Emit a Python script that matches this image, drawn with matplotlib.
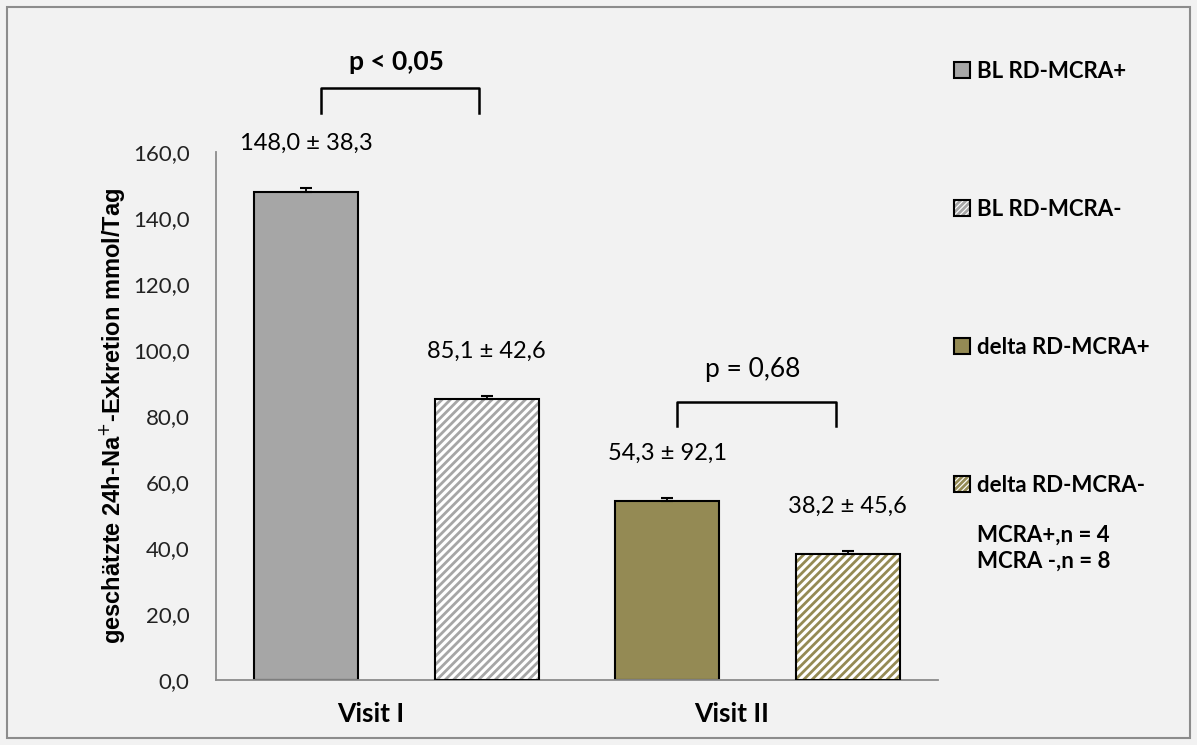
import numpy as np
import matplotlib
matplotlib.use("Agg")
import matplotlib.pyplot as plt
from matplotlib.patches import Patch, Rectangle
from matplotlib.ticker import FuncFormatter
from matplotlib.legend_handler import HandlerTuple

# Data
visits = ["Visit I", "Visit II"]
series = ["BL RD-MCRA+", "BL RD-MCRA-", "delta RD-MCRA+", "delta RD-MCRA-"]
means = [148.0, 85.1, 54.3, 38.2]
sds = [38.3, 42.6, 92.1, 45.6]
err_drawn = [1.0, 1.0, 1.0, 1.0]
group_of = [0, 0, 1, 1]
yticks = [0, 20, 40, 60, 80, 100, 120, 140, 160]

face = ["#a6a6a6", "white", "#948a54", "white"]
stripe = [None, "#a6a6a6", None, "#948a54"]

bg = "#f2f2f2"
plt.rcParams["hatch.linewidth"] = 2.0

fig = plt.figure(figsize=(11.97, 7.45), dpi=100, facecolor=bg)
ax = fig.add_axes([216 / 1197, 1 - 680 / 745, (938 - 216) / 1197, (680 - 152) / 745])
ax.set_facecolor(bg)

width = 0.288
offsets = [-0.25, 0.25, -0.25, 0.25]
handles = []
for i in range(4):
    x = group_of[i] + offsets[i]
    if stripe[i] is None:
        b = ax.bar(x, means[i], width, color=face[i], edgecolor="black",
                   linewidth=1.5, zorder=2)
        handles.append(b.patches[0])
    else:
        ax.bar(x, means[i], width, color=face[i], edgecolor=stripe[i],
               hatch="////", linewidth=0, zorder=2)
        ax.bar(x, means[i], width, color="none", edgecolor="black",
               linewidth=1.5, zorder=3)
        h1 = Patch(facecolor=face[i], edgecolor=stripe[i], hatch="//////", linewidth=0)
        h2 = Patch(facecolor="none", edgecolor="black", linewidth=1.5)
        handles.append((h1, h2))
    ax.errorbar(x, means[i], yerr=[[0], [err_drawn[i]]], fmt="none",
                ecolor="black", elinewidth=1.3, capsize=4.5, capthick=1.5, zorder=4)
    lbl = f"{means[i]:.1f} ± {sds[i]:.1f}".replace(".", ",")
    ax.text(x, means[i] + 14.5, lbl, ha="center", va="center",
            fontsize=17, family="Lato", clip_on=False)

ax.set_xlim(-0.5, 1.5)
ax.set_ylim(0, 160)
ax.set_yticks(yticks)
ax.yaxis.set_major_formatter(FuncFormatter(lambda v, p: f"{v:.1f}".replace(".", ",")))
# category labels sit a little left of the group centre
ax.set_xticks([g - 0.072 for g in range(len(visits))])
ax.set_xticklabels(visits, fontsize=19, fontweight="bold", family="Lato")
ax.tick_params(axis="both", length=0)
ax.tick_params(axis="y", labelsize=16, pad=19)
ax.tick_params(axis="x", pad=16)
for lab in ax.get_yticklabels():
    lab.set_family("Lato")
    lab.set_color("#222222")
for s in ["top", "right"]:
    ax.spines[s].set_visible(False)
for s in ["left", "bottom"]:
    ax.spines[s].set_color("#8c8c8c")
    ax.spines[s].set_linewidth(1.3)

ax.set_ylabel("geschätzte 24h-Na$^{+}$-Exkretion mmol/Tag", fontsize=17,
              fontweight="bold", family="Liberation Sans", labelpad=4)

# Significance brackets
def bracket(x0, x1, ytop, ybot, text, ytext, weight):
    ax.plot([x0, x0, x1, x1], [ybot, ytop, ytop, ybot], color="black",
            linewidth=1.8, clip_on=False, solid_joinstyle="round")
    ax.text((x0 + x1) / 2 - 0.01, ytext, text, ha="center", va="center",
            fontsize=19, fontweight=weight, family="Lato", clip_on=False)

bracket(-0.209, 0.229, 179.4, 171.8, "p < 0,05", 187.2, "bold")
bracket(0.777, 1.217, 84.2, 77.0, "p = 0,68", 94.2, "normal")

leg = fig.legend(handles, series, loc="upper left", bbox_to_anchor=(954 / 1197, 1 - 61 / 745),
                 frameon=False, prop={"family": "Lato", "weight": "bold", "size": 16},
                 labelspacing=5.26, handlelength=0.72, handleheight=0.72,
                 handletextpad=0.32, borderaxespad=0, borderpad=0,
                 handler_map={tuple: HandlerTuple(ndivide=1, pad=0)})
fig.text(977 / 1197, 1 - 535 / 745, "MCRA+,n = 4", fontsize=16, fontweight="bold",
         family="Lato", va="center")
fig.text(977 / 1197, 1 - 561 / 745, "MCRA -,n = 8", fontsize=16, fontweight="bold",
         family="Lato", va="center")

fig.patches.append(Rectangle((7 / 1197, 7 / 745), 1183 / 1197, 731 / 745,
                             transform=fig.transFigure, fill=False,
                             edgecolor="#8c8c8c", linewidth=1.5))

fig.savefig("out.png", dpi=100, facecolor=bg)
